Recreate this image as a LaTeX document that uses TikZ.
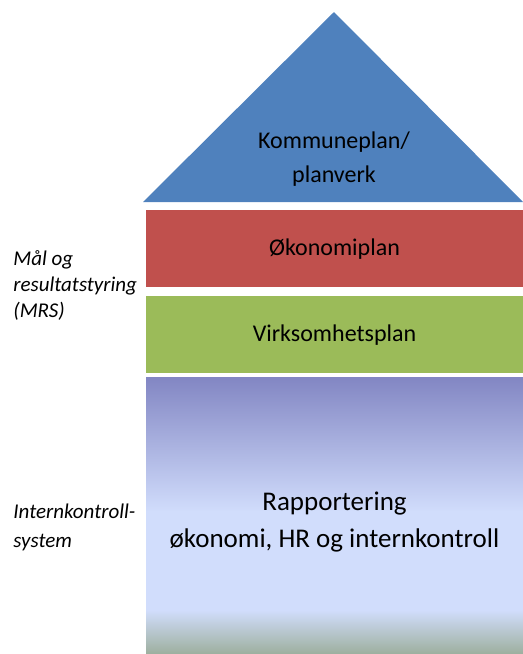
\documentclass[tikz,border=0pt]{standalone}
\usepackage{fontspec}
\setmainfont{Carlito}
\usetikzlibrary{positioning}

\definecolor{roofblue}{HTML}{4F81BD}
\definecolor{planred}{HTML}{C0504D}
\definecolor{plangreen}{HTML}{9BBB59}
\definecolor{raptop}{HTML}{8286C3}
\definecolor{raplight}{HTML}{D1DDFC}
\definecolor{rapbottom}{HTML}{9DAF9E}

\tikzset{
  layertext/.style={font=\fontsize{12}{17}\selectfont, align=center, inner sep=0pt},
  bigtext/.style={font=\fontsize{13.5}{18.5}\selectfont, align=center, inner sep=0pt},
  sidetext/.style={font=\fontsize{10.5}{13}\selectfont\itshape, align=left, anchor=west, inner sep=0pt},
}

\begin{document}
\begin{tikzpicture}[x=0.5pt, y=-0.5pt]
  \useasboundingbox (0,0) rectangle (523,654);
  % roof
  \fill[roofblue] (143,202) -- (334,12) -- (523,202) -- cycle;
  \node[layertext] (kommune) at (334,159) {Kommuneplan/\\planverk};
  % plan layers
  \fill[planred] (146,210) rectangle (523,287);
  \node[layertext] (okonomi) at (334.5,249) {Økonomiplan};
  \fill[plangreen] (146,296) rectangle (523,373);
  \node[layertext] (virksomhet) at (334.5,335) {Virksomhetsplan};
  % reporting base
  \shade[top color=raptop, bottom color=raplight] (146,377) rectangle (523,512);
  \fill[raplight] (146,511) rectangle (523,611);
  \shade[top color=raplight, bottom color=rapbottom] (146,610) rectangle (523,654);
  \node[bigtext] (rapport) at (334.5,522) {Rapportering\\økonomi, HR og internkontroll};
  % side labels
  \node[sidetext] (mrs) at (13,285) {Mål og\\resultatstyring\\(MRS)};
  \node[sidetext, font=\fontsize{10.5}{14.5}\selectfont\itshape] (ik) at (13,527) {Internkontroll-\\system};
\end{tikzpicture}
\end{document}
